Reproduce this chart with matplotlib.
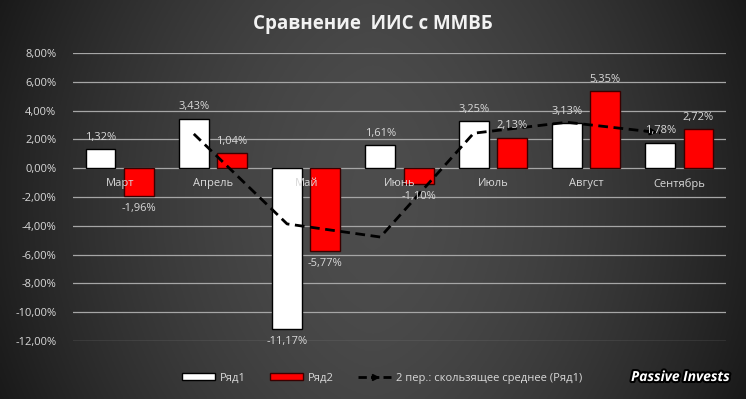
import numpy as np
import matplotlib.pyplot as plt
from matplotlib.patches import Rectangle
from matplotlib.lines import Line2D
import matplotlib.patheffects as pe

plt.rcParams['font.family'] = ['Open Sans', 'DejaVu Sans']

# данные
months = ['Март', 'Апрель', 'Май', 'Июнь', 'Июль', 'Август', 'Сентябрь']
row1 = [1.32, 3.43, -11.17, 1.61, 3.25, 3.13, 1.78]
row2 = [-1.96, 1.04, -5.77, -1.10, 2.13, 5.35, 2.72]
ma_values = [2.38, -3.87, -4.78, 2.43, 3.19, 2.46]  # с апреля
yticks = [8, 6, 4, 2, 0, -2, -4, -6, -8, -10, -12]

txt_col = '#d9d9d9'

fig = plt.figure(figsize=(7.46, 3.99), dpi=100)

# фон с градиентом
bg = fig.add_axes([0, 0, 1, 1], zorder=-10)
xx = np.linspace(-1, 1, 400)
yy = np.linspace(-1, 1, 200)
X, Y = np.meshgrid(xx, yy)
lum = 0.30 - 0.17 * np.abs(X) ** 1.6 - 0.03 * Y ** 2
bg.imshow(np.dstack([lum, lum, lum]), aspect='auto', extent=[0, 1, 0, 1])
bg.axis('off')

ax = fig.add_axes([73 / 746, 1 - 341 / 399, (726 - 73) / 746, (341 - 53) / 399])
ax.patch.set_alpha(0)

x = np.arange(len(months))
w = 0.32
off = 0.205
ax.bar(x - off, row1, w, color='white', edgecolor='black', linewidth=1, zorder=3)
ax.bar(x + off, row2, w, color='#ff0000', edgecolor='#3a0000', linewidth=1, zorder=3)

def fmt(v):
    return f'{v:.2f}%'.replace('.', ',')

for xi, v in zip(x - off, row1):
    ax.text(xi, v + (0.45 if v > 0 else -0.45), fmt(v), ha='center',
            va='bottom' if v > 0 else 'top', color=txt_col, fontsize=8, zorder=5)
for xi, v in zip(x + off, row2):
    ax.text(xi, v + (0.45 if v > 0 else -0.45), fmt(v), ha='center',
            va='bottom' if v > 0 else 'top', color=txt_col, fontsize=8, zorder=5)

# скользящее среднее
ax.plot(x[1:] - off, ma_values, color='black', linestyle=(0, (3.5, 2)), linewidth=2, zorder=4)
ax.annotate('', xy=(x[-1] - off, ma_values[-1]), xytext=(x[-1] - off - 0.2, ma_values[-1] + 0.15),
            arrowprops=dict(arrowstyle='-|>', color='black', lw=1.5), zorder=4)

# подписи категорий под нулём
for xi, m in zip(x, months):
    ax.text(xi, -0.7, m, ha='center', va='top', color=txt_col, fontsize=8, zorder=6)

ax.set_xlim(-0.5, len(months) - 0.5)
ax.set_ylim(-12, 8)
ax.set_yticks(yticks)
ax.set_yticklabels([fmt(v) for v in yticks], color=txt_col, fontsize=8)
ax.set_xticks([])
ax.yaxis.grid(True, color='#a6a6a6', linewidth=0.9, zorder=0)
ax.tick_params(axis='y', length=0, pad=12)
for s in ax.spines.values():
    s.set_visible(False)

fig.text(0.5, 1 - 24 / 399, 'Сравнение  ИИС с ММВБ', ha='center', va='center',
         color='#f2f2f2', fontsize=13.5, fontweight='bold')

# легенда
handles = [Rectangle((0, 0), 1, 1, facecolor='white', edgecolor='black'),
           Rectangle((0, 0), 1, 1, facecolor='#ff0000', edgecolor='#3a0000'),
           Line2D([0], [0], color='black', linestyle=(0, (3, 1.5)), linewidth=2, marker='>', markevery=[1], markersize=5)]
leg = fig.legend(handles, ['Ряд1', 'Ряд2', '2 пер.: скользящее среднее (Ряд1)'],
                 loc='center', bbox_to_anchor=(382 / 746, 1 - 378 / 399), ncol=3, frameon=False,
                 fontsize=8, labelcolor=txt_col, handlelength=3, handleheight=0.6,
                 columnspacing=2.2, handletextpad=0.4)

fig.text(730 / 746, 1 - 377 / 399, 'Passive Invests', ha='right', va='center', color='white',
         fontsize=10, fontweight='bold', fontstyle='italic',
         path_effects=[pe.withStroke(linewidth=3, foreground='black')])

fig.savefig('out.png', dpi=100)
